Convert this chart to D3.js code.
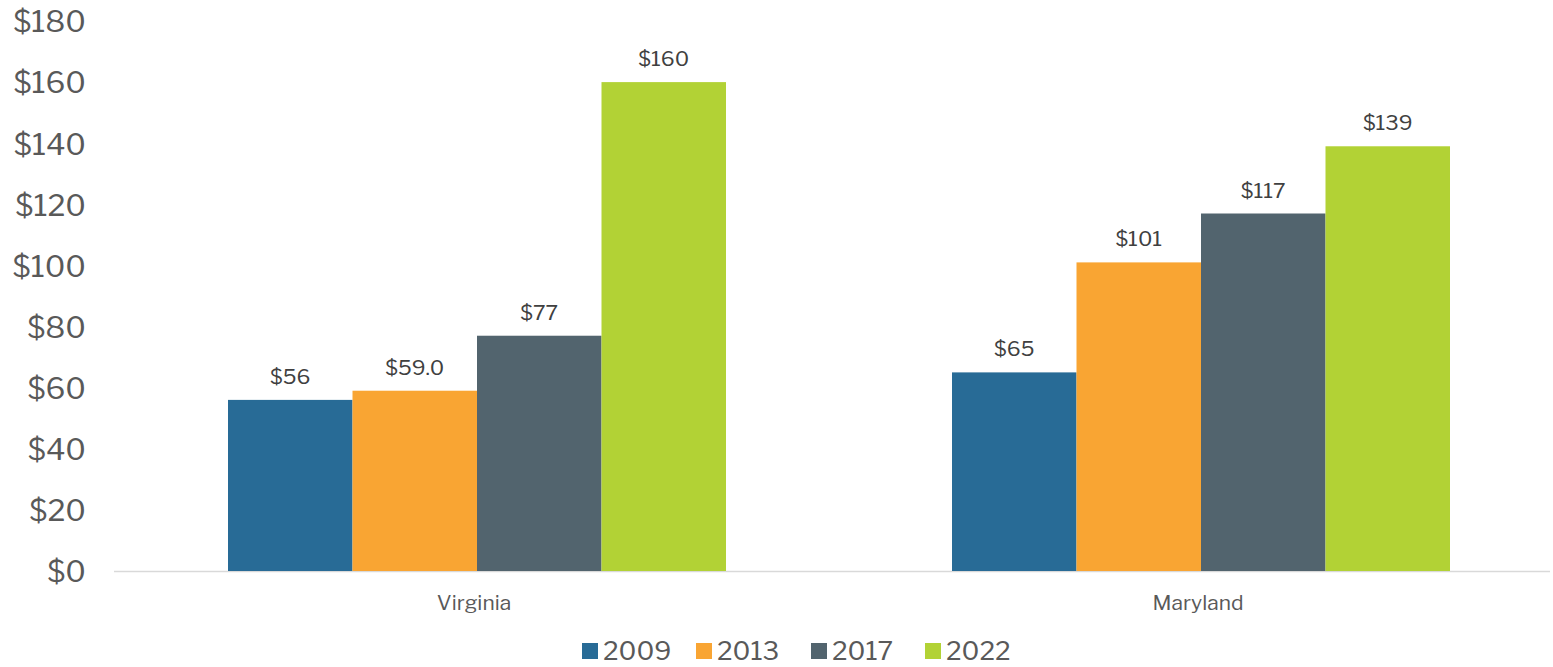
<!DOCTYPE html>
<html><head><meta charset="utf-8">
<script src="https://cdn.jsdelivr.net/npm/d3@7"></script>
<style>body{margin:0;background:#fff}svg{display:block}</style>
</head><body>
<svg id="c" width="1553" height="667"></svg>
<script>
const categories = ["Virginia", "Maryland"];
const years = ["2009", "2013", "2017", "2022"];
const v2009 = [56, 65];
const v2013 = [59.0, 101];
const v2017 = [77, 117];
const v2022 = [160, 139];
const labels2009 = ["$56", "$65"];
const labels2013 = ["$59.0", "$101"];
const labels2017 = ["$77", "$117"];
const labels2022 = ["$160", "$139"];
const yTicks = [0, 20, 40, 60, 80, 100, 120, 140, 160, 180];
const colors = ["#286B96", "#F9A533", "#52646E", "#B2D235"];

const series = [v2009, v2013, v2017, v2022];
const seriesLabels = [labels2009, labels2013, labels2017, labels2022];

const svg = d3.select("#c");
const font = "'Libre Franklin','Franklin Gothic Book','Liberation Sans',Arial,sans-serif";

const y = d3.scaleLinear().domain([0, 180]).range([571, 21]);
const x0 = d3.scaleBand().domain(categories).range([115, 1563]).paddingInner(0);
const groupW = 498;
const x1 = d3.scaleBand().domain(years).range([0, groupW]).padding(0);

// y axis labels
const yAxis = d3.axisLeft(y).tickValues(yTicks).tickFormat(d => "$" + d).tickSize(0).tickPadding(0);
const ga = svg.append("g").attr("transform", "translate(86,0)").call(yAxis);
ga.select(".domain").remove();
ga.selectAll("text").attr("font-family", font).attr("font-size", 30).attr("fill", "#595959").attr("dy", "0.36em");

// baseline
svg.append("line").attr("x1", 114).attr("x2", 1550).attr("y1", y(0) + 0.5).attr("y2", y(0) + 0.5)
  .attr("stroke", "#D9D9D9").attr("stroke-width", 1.5);

// bars
categories.forEach((cat, ci) => {
  const gx = x0(cat) + (x0.bandwidth() - groupW) / 2;
  years.forEach((yr, si) => {
    const val = series[si][ci];
    svg.append("rect")
      .attr("x", gx + x1(yr))
      .attr("width", x1.bandwidth())
      .attr("y", y(val))
      .attr("height", y(0) - y(val))
      .attr("fill", colors[si]);
    svg.append("text")
      .attr("x", gx + x1(yr) + x1.bandwidth() / 2)
      .attr("y", y(val) - 16)
      .attr("text-anchor", "middle")
      .attr("font-family", font).attr("font-size", 21).attr("fill", "#404040")
      .text(seriesLabels[si][ci]);
  });
  svg.append("text")
    .attr("x", gx + groupW / 2 - 3)
    .attr("y", 610)
    .attr("text-anchor", "middle")
    .attr("font-family", font).attr("font-size", 21).attr("fill", "#595959")
    .text(cat);
});

// legend
const legX = [582, 696, 811, 925];
years.forEach((yr, i) => {
  svg.append("rect").attr("x", legX[i]).attr("y", 643).attr("width", 16).attr("height", 16).attr("fill", colors[i]);
  svg.append("text").attr("x", legX[i] + 21).attr("y", 660)
    .attr("font-family", font).attr("font-size", 26).attr("fill", "#595959").text(yr);
});
</script>
</body></html>
